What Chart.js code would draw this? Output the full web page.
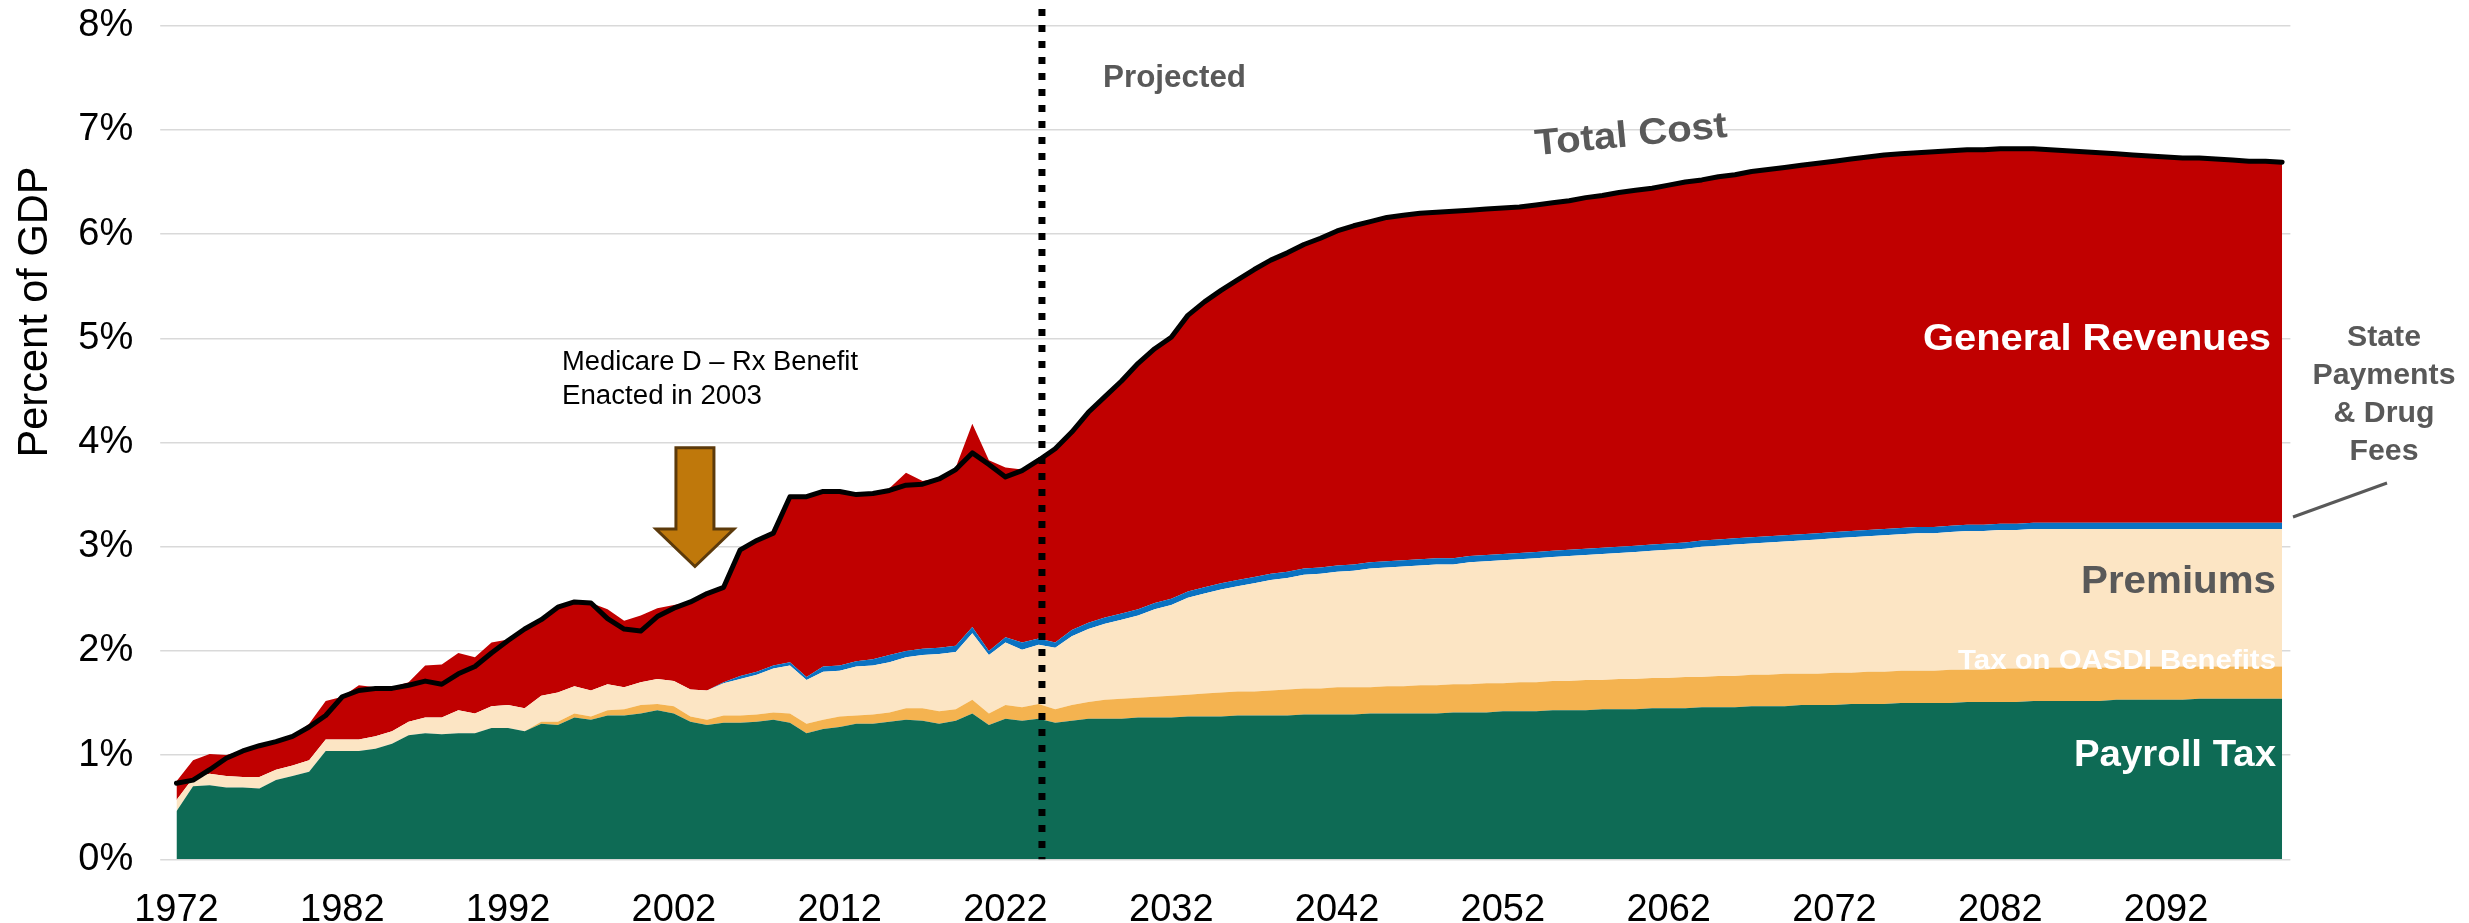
<!DOCTYPE html>
<html>
<head>
<meta charset="utf-8">
<script src="https://cdn.jsdelivr.net/npm/chart.js@4.4.1/dist/chart.umd.min.js"></script>
<style>
html,body{margin:0;padding:0;background:#ffffff;overflow:hidden}
#wrap{width:2469px;height:923px;position:relative}
</style>
</head>
<body>
<div id="wrap"><canvas id="c" width="2469" height="923"></canvas></div>
<script>
// ---------------- DATA (percent of GDP) ----------------
const startYear = 1972;
const endYear = 2099;
const years = [];
for (let y = startYear; y <= endYear; y++) years.push(y);

const tickYears = [1972, 1982, 1992, 2002, 2012, 2022, 2032, 2042, 2052, 2062, 2072, 2082, 2092];
const yTicks = [0, 1, 2, 3, 4, 5, 6, 7, 8];

// Payroll Tax
const payrollTax = [
  0.46,0.70,0.71,0.69,0.69,0.68,0.76,0.80,0.84,1.04,
  1.04,1.04,1.06,1.11,1.19,1.21,1.20,1.21,1.21,1.26,
  1.26,1.23,1.30,1.29,1.36,1.34,1.38,1.38,1.40,1.43,
  1.40,1.32,1.29,1.31,1.31,1.32,1.34,1.31,1.21,1.25,
  1.27,1.30,1.30,1.32,1.34,1.33,1.30,1.33,1.40,1.29,
  1.35,1.33,1.35,1.31,1.33,1.35,1.35,1.35,1.36,1.36,
  1.36,1.37,1.37,1.37,1.38,1.38,1.38,1.38,1.39,1.39,
  1.39,1.39,1.40,1.40,1.40,1.40,1.40,1.41,1.41,1.41,
  1.42,1.42,1.42,1.43,1.43,1.43,1.44,1.44,1.44,1.45,
  1.45,1.45,1.46,1.46,1.46,1.47,1.47,1.47,1.48,1.48,
  1.48,1.49,1.49,1.49,1.50,1.50,1.50,1.50,1.51,1.51,
  1.51,1.51,1.52,1.52,1.52,1.52,1.52,1.53,1.53,1.53,
  1.53,1.53,1.54,1.54,1.54,1.54,1.54,1.54
];

// Tax on OASDI Benefits
const oasdiTax = [
  0,0,0,0,0,0,0,0,0,0,
  0,0,0,0,0,0,0,0,0,0,
  0,0,0.02,0.03,0.04,0.03,0.05,0.06,0.08,0.06,
  0.07,0.05,0.05,0.07,0.07,0.07,0.07,0.09,0.09,0.09,
  0.10,0.08,0.09,0.09,0.11,0.12,0.12,0.11,0.13,0.11,
  0.13,0.13,0.14,0.13,0.15,0.16,0.18,0.19,0.19,0.20,
  0.21,0.21,0.22,0.23,0.23,0.23,0.24,0.25,0.25,0.25,
  0.26,0.26,0.25,0.26,0.26,0.27,0.27,0.27,0.27,0.28,
  0.27,0.28,0.28,0.28,0.28,0.29,0.28,0.29,0.29,0.29,
  0.29,0.30,0.29,0.30,0.30,0.30,0.30,0.31,0.30,0.30,
  0.31,0.30,0.31,0.31,0.31,0.31,0.31,0.32,0.31,0.31,
  0.32,0.32,0.31,0.32,0.32,0.32,0.32,0.31,0.32,0.32,
  0.32,0.32,0.31,0.31,0.31,0.31,0.31,0.31
];

// Premiums
const premiums = [
  0.11,0.08,0.11,0.11,0.10,0.11,0.10,0.10,0.11,0.11,
  0.11,0.11,0.12,0.12,0.13,0.15,0.16,0.22,0.19,0.21,
  0.22,0.22,0.25,0.28,0.26,0.25,0.25,0.21,0.22,0.24,
  0.24,0.26,0.28,0.31,0.35,0.38,0.42,0.46,0.42,0.46,
  0.44,0.47,0.47,0.48,0.49,0.51,0.55,0.55,0.64,0.56,
  0.60,0.55,0.57,0.59,0.66,0.70,0.73,0.76,0.79,0.84,
  0.87,0.93,0.96,0.99,1.01,1.04,1.06,1.07,1.09,1.10,
  1.11,1.12,1.14,1.14,1.15,1.15,1.16,1.15,1.17,1.17,
  1.18,1.18,1.19,1.19,1.20,1.20,1.21,1.21,1.22,1.22,
  1.23,1.23,1.25,1.25,1.26,1.26,1.27,1.27,1.28,1.29,
  1.29,1.30,1.30,1.31,1.31,1.32,1.32,1.32,1.33,1.33,
  1.33,1.33,1.34,1.33,1.33,1.33,1.33,1.33,1.32,1.32,
  1.32,1.32,1.32,1.32,1.32,1.32,1.32,1.32
];

// State Payments & Drug Fees
const stateDrugFees = [
  0,0,0,0,0,0,0,0,0,0,
  0,0,0,0,0,0,0,0,0,0,
  0,0,0,0,0,0,0,0,0,0,
  0,0,0,0.01,0.03,0.03,0.03,0.03,0.03,0.05,
  0.05,0.05,0.06,0.07,0.06,0.06,0.06,0.06,0.06,0.04,
  0.05,0.07,0.06,0.05,0.06,0.06,0.06,0.06,0.06,0.06,
  0.06,0.06,0.06,0.06,0.06,0.06,0.06,0.06,0.06,0.06,
  0.06,0.06,0.06,0.06,0.06,0.06,0.06,0.06,0.06,0.06,
  0.06,0.06,0.06,0.06,0.06,0.06,0.06,0.06,0.06,0.06,
  0.06,0.06,0.06,0.06,0.06,0.06,0.06,0.06,0.06,0.06,
  0.06,0.06,0.06,0.06,0.06,0.06,0.06,0.06,0.06,0.06,
  0.06,0.06,0.06,0.06,0.06,0.06,0.06,0.06,0.06,0.06,
  0.06,0.06,0.06,0.06,0.06,0.06,0.06,0.06
];

// General Revenues
const generalRevenues = [
  0.18,0.17,0.19,0.20,0.25,0.30,0.27,0.28,0.35,0.37,
  0.41,0.52,0.47,0.42,0.38,0.50,0.51,0.55,0.54,0.61,
  0.63,0.76,0.73,0.82,0.81,0.84,0.72,0.64,0.64,0.68,
  0.73,0.84,0.93,0.91,1.21,1.26,1.27,1.59,1.73,1.68,
  1.67,1.60,1.59,1.60,1.71,1.61,1.63,1.71,1.95,1.83,
  1.63,1.66,1.71,1.86,1.90,2.02,2.12,2.23,2.36,2.44,
  2.51,2.65,2.74,2.81,2.88,2.95,3.01,3.06,3.11,3.16,
  3.21,3.25,3.27,3.30,3.31,3.32,3.32,3.33,3.32,3.32,
  3.32,3.32,3.33,3.34,3.35,3.37,3.38,3.40,3.41,3.42,
  3.44,3.46,3.46,3.48,3.49,3.51,3.52,3.53,3.54,3.55,
  3.56,3.57,3.58,3.59,3.59,3.59,3.60,3.60,3.60,3.60,
  3.60,3.60,3.59,3.58,3.57,3.56,3.55,3.54,3.53,3.52,
  3.51,3.50,3.50,3.49,3.48,3.47,3.47,3.46
];

// Total Cost
const totalCost = [
  0.73,0.76,0.86,0.97,1.04,1.09,1.13,1.18,1.27,1.38,
  1.56,1.62,1.64,1.64,1.67,1.71,1.68,1.78,1.85,1.98,
  2.10,2.21,2.30,2.42,2.47,2.46,2.31,2.21,2.19,2.33,
  2.41,2.47,2.55,2.61,2.97,3.06,3.13,3.48,3.48,3.53,
  3.53,3.50,3.51,3.54,3.59,3.60,3.65,3.74,3.90,3.79,
  3.67,3.73,3.83,3.94,4.10,4.29,4.44,4.59,4.76,4.90,
  5.01,5.22,5.35,5.46,5.56,5.66,5.75,5.82,5.90,5.96,
  6.03,6.08,6.12,6.16,6.18,6.20,6.21,6.22,6.23,6.24,
  6.25,6.26,6.28,6.30,6.32,6.35,6.37,6.40,6.42,6.44,
  6.47,6.50,6.52,6.55,6.57,6.60,6.62,6.64,6.66,6.68,
  6.70,6.72,6.74,6.76,6.77,6.78,6.79,6.80,6.81,6.81,
  6.82,6.82,6.82,6.81,6.80,6.79,6.78,6.77,6.76,6.75,
  6.74,6.73,6.73,6.72,6.71,6.70,6.70,6.69
];

const projectionStartYear = 2024.2; // position of the dotted "Projected" divider
const rxBenefitYear = 2003.27;      // arrow position

// ---------------- STYLE ----------------
const FONT = '"Liberation Sans", Arial, Helvetica, sans-serif';
const C_GREEN = '#0E6B55';
const C_ORANGE = '#F4B350';
const C_BEIGE = '#FCE5C4';
const C_BLUE = '#0A72C2';
const C_RED = '#C00000';
const C_GRAY = '#595959';
const C_GRID = '#D9D9D9';
const AREA = { left: 168.2, right: 2290.4, top: 25.7, bottom: 859.3 };

function areaDs(label, data, color, fill) {
  return {
    label, data, backgroundColor: color, borderColor: color, borderWidth: 0,
    fill, stack: 'income', pointRadius: 0, tension: 0, order: 1
  };
}

function fitText(ctx, text, x, y, size, targetW, align, color, weight) {
  ctx.save();
  ctx.font = (weight || 'bold') + ' ' + size + 'px ' + FONT;
  const w = ctx.measureText(text).width;
  const s = targetW / w;
  ctx.translate(x, y);
  ctx.scale(s, 1);
  ctx.textAlign = align;
  ctx.textBaseline = 'alphabetic';
  ctx.fillStyle = color;
  ctx.fillText(text, 0, 0);
  ctx.restore();
}

const annotations = {
  id: 'annotations',
  afterDatasetsDraw(chart) {
    const ctx = chart.ctx;
    const xs = chart.scales.x, ys = chart.scales.y;
    const idx = (yr) => yr - startYear;

    // dotted divider
    const xd = xs.getPixelForValue(idx(projectionStartYear));
    ctx.save();
    ctx.strokeStyle = '#000';
    ctx.lineWidth = 7;
    ctx.setLineDash([7, 9]);
    ctx.beginPath();
    ctx.moveTo(xd, 9);
    ctx.lineTo(xd, chart.chartArea.bottom);
    ctx.stroke();
    ctx.restore();

    // arrow for Medicare D
    const xa = xs.getPixelForValue(idx(rxBenefitYear));
    const yTop = ys.getPixelForValue(3.95);
    const yNeck = ys.getPixelForValue(3.17);
    const yTip = ys.getPixelForValue(2.81);
    ctx.save();
    ctx.beginPath();
    ctx.moveTo(xa - 19, yTop);
    ctx.lineTo(xa + 19, yTop);
    ctx.lineTo(xa + 19, yNeck);
    ctx.lineTo(xa + 39, yNeck);
    ctx.lineTo(xa, yTip);
    ctx.lineTo(xa - 39, yNeck);
    ctx.lineTo(xa - 19, yNeck);
    ctx.closePath();
    ctx.fillStyle = '#BF780B';
    ctx.fill();
    ctx.lineWidth = 3;
    ctx.strokeStyle = '#5C3A0B';
    ctx.lineJoin = 'miter';
    ctx.stroke();
    ctx.restore();
  },
  afterDraw(chart) {
    const ctx = chart.ctx;
    // y axis title
    ctx.save();
    ctx.translate(47, 312);
    ctx.rotate(-Math.PI / 2);
    ctx.font = '42px ' + FONT;
    const tw = ctx.measureText('Percent of GDP').width;
    ctx.scale(291 / tw, 1);
    ctx.textAlign = 'center';
    ctx.textBaseline = 'alphabetic';
    ctx.fillStyle = '#000';
    ctx.fillText('Percent of GDP', 0, 0);
    ctx.restore();

    // annotation text
    fitText(ctx, 'Medicare D \u2013 Rx Benefit', 562, 370, 27, 296, 'left', '#000', 'normal');
    fitText(ctx, 'Enacted in 2003', 562, 404, 27, 200, 'left', '#000', 'normal');
    fitText(ctx, 'Projected', 1103, 87, 31, 143, 'left', C_GRAY);

    // Total Cost (rotated)
    ctx.save();
    ctx.translate(1632, 146);
    ctx.rotate(-5.5 * Math.PI / 180);
    fitText(ctx, 'Total Cost', 0, 0, 37, 193, 'center', C_GRAY);
    ctx.restore();

    fitText(ctx, 'General Revenues', 2271, 350, 37, 348, 'right', '#ffffff');
    fitText(ctx, 'Premiums', 2276, 593, 38, 195, 'right', C_GRAY);
    fitText(ctx, 'Tax on OASDI Benefits', 2276, 669, 28, 318, 'right', '#ffffff');
    fitText(ctx, 'Payroll Tax', 2276, 766, 36, 202, 'right', '#ffffff');

    // State Payments & Drug Fees
    ctx.save();
    ctx.font = 'bold 29px ' + FONT;
    const sc = 143 / ctx.measureText('Payments').width;
    ctx.restore();
    const lines = ['State', 'Payments', '& Drug', 'Fees'];
    const bases = [346, 384, 422, 460];
    lines.forEach((t, i) => {
      ctx.save();
      ctx.font = 'bold 29px ' + FONT;
      ctx.translate(2384, bases[i]);
      ctx.scale(sc, 1);
      ctx.textAlign = 'center';
      ctx.fillStyle = C_GRAY;
      ctx.fillText(t, 0, 0);
      ctx.restore();
    });
    ctx.save();
    ctx.strokeStyle = C_GRAY;
    ctx.lineWidth = 3;
    ctx.beginPath();
    ctx.moveTo(2293, 517);
    ctx.lineTo(2387, 483);
    ctx.stroke();
    ctx.restore();
  }
};

const chart = new Chart(document.getElementById('c'), {
  type: 'line',
  data: {
    labels: years,
    datasets: [
      areaDs('Payroll Tax', payrollTax, C_GREEN, 'origin'),
      areaDs('Tax on OASDI Benefits', oasdiTax, C_ORANGE, '-1'),
      areaDs('Premiums', premiums, C_BEIGE, '-1'),
      areaDs('State Payments & Drug Fees', stateDrugFees, C_BLUE, '-1'),
      areaDs('General Revenues', generalRevenues, C_RED, '-1'),
      {
        label: 'Total Cost', data: totalCost, stack: 'cost', fill: false,
        borderColor: '#000', borderWidth: 5, borderCapStyle: 'round', borderJoinStyle: 'round',
        pointRadius: 0, tension: 0, order: 0
      }
    ]
  },
  options: {
    responsive: false,
    animation: false,
    devicePixelRatio: 1,
    layout: { padding: { top: AREA.top, left: 0, right: 2469 - AREA.right, bottom: 0 } },
    plugins: {
      legend: { display: false },
      tooltip: { enabled: false },
      filler: { propagate: false }
    },
    scales: {
      x: {
        type: 'category',
        offset: true,
        grid: { display: false },
        border: { display: false },
        ticks: {
          autoSkip: false, maxRotation: 0, minRotation: 0, padding: 20,
          color: '#000', font: { family: FONT, size: 38 },
          callback: function (v, i) { const yr = years[i]; return tickYears.includes(yr) ? String(yr) : null; }
        },
        afterFit: (s) => { s.height = 923 - AREA.bottom; s.paddingLeft = 0; s.paddingRight = 0; }
      },
      y: {
        stacked: true,
        min: 0, max: 8,
        afterBuildTicks: (s) => { s.ticks = yTicks.map(v => ({ value: v })); },
        grid: { color: C_GRID, lineWidth: 1.5, drawTicks: true, tickLength: 8, tickColor: C_GRID, tickWidth: 1.5 },
        border: { display: false },
        ticks: {
          padding: 27, color: '#000', font: { family: FONT, size: 38 },
          callback: (v) => v + '%'
        },
        afterFit: (s) => { s.width = AREA.left; s.paddingTop = 0; s.paddingBottom = 0; }
      }
    }
  },
  plugins: [annotations]
});

// make the plot area land exactly where the reference has it
for (let k = 0; k < 4; k++) {
  const ca = chart.chartArea;
  const p = chart.options.layout.padding;
  p.top += AREA.top - ca.top;
  p.bottom += ca.bottom - AREA.bottom;
  p.right += ca.right - AREA.right;
  p.left += AREA.left - ca.left;
  chart.update();
}
</script>
</body>
</html>
